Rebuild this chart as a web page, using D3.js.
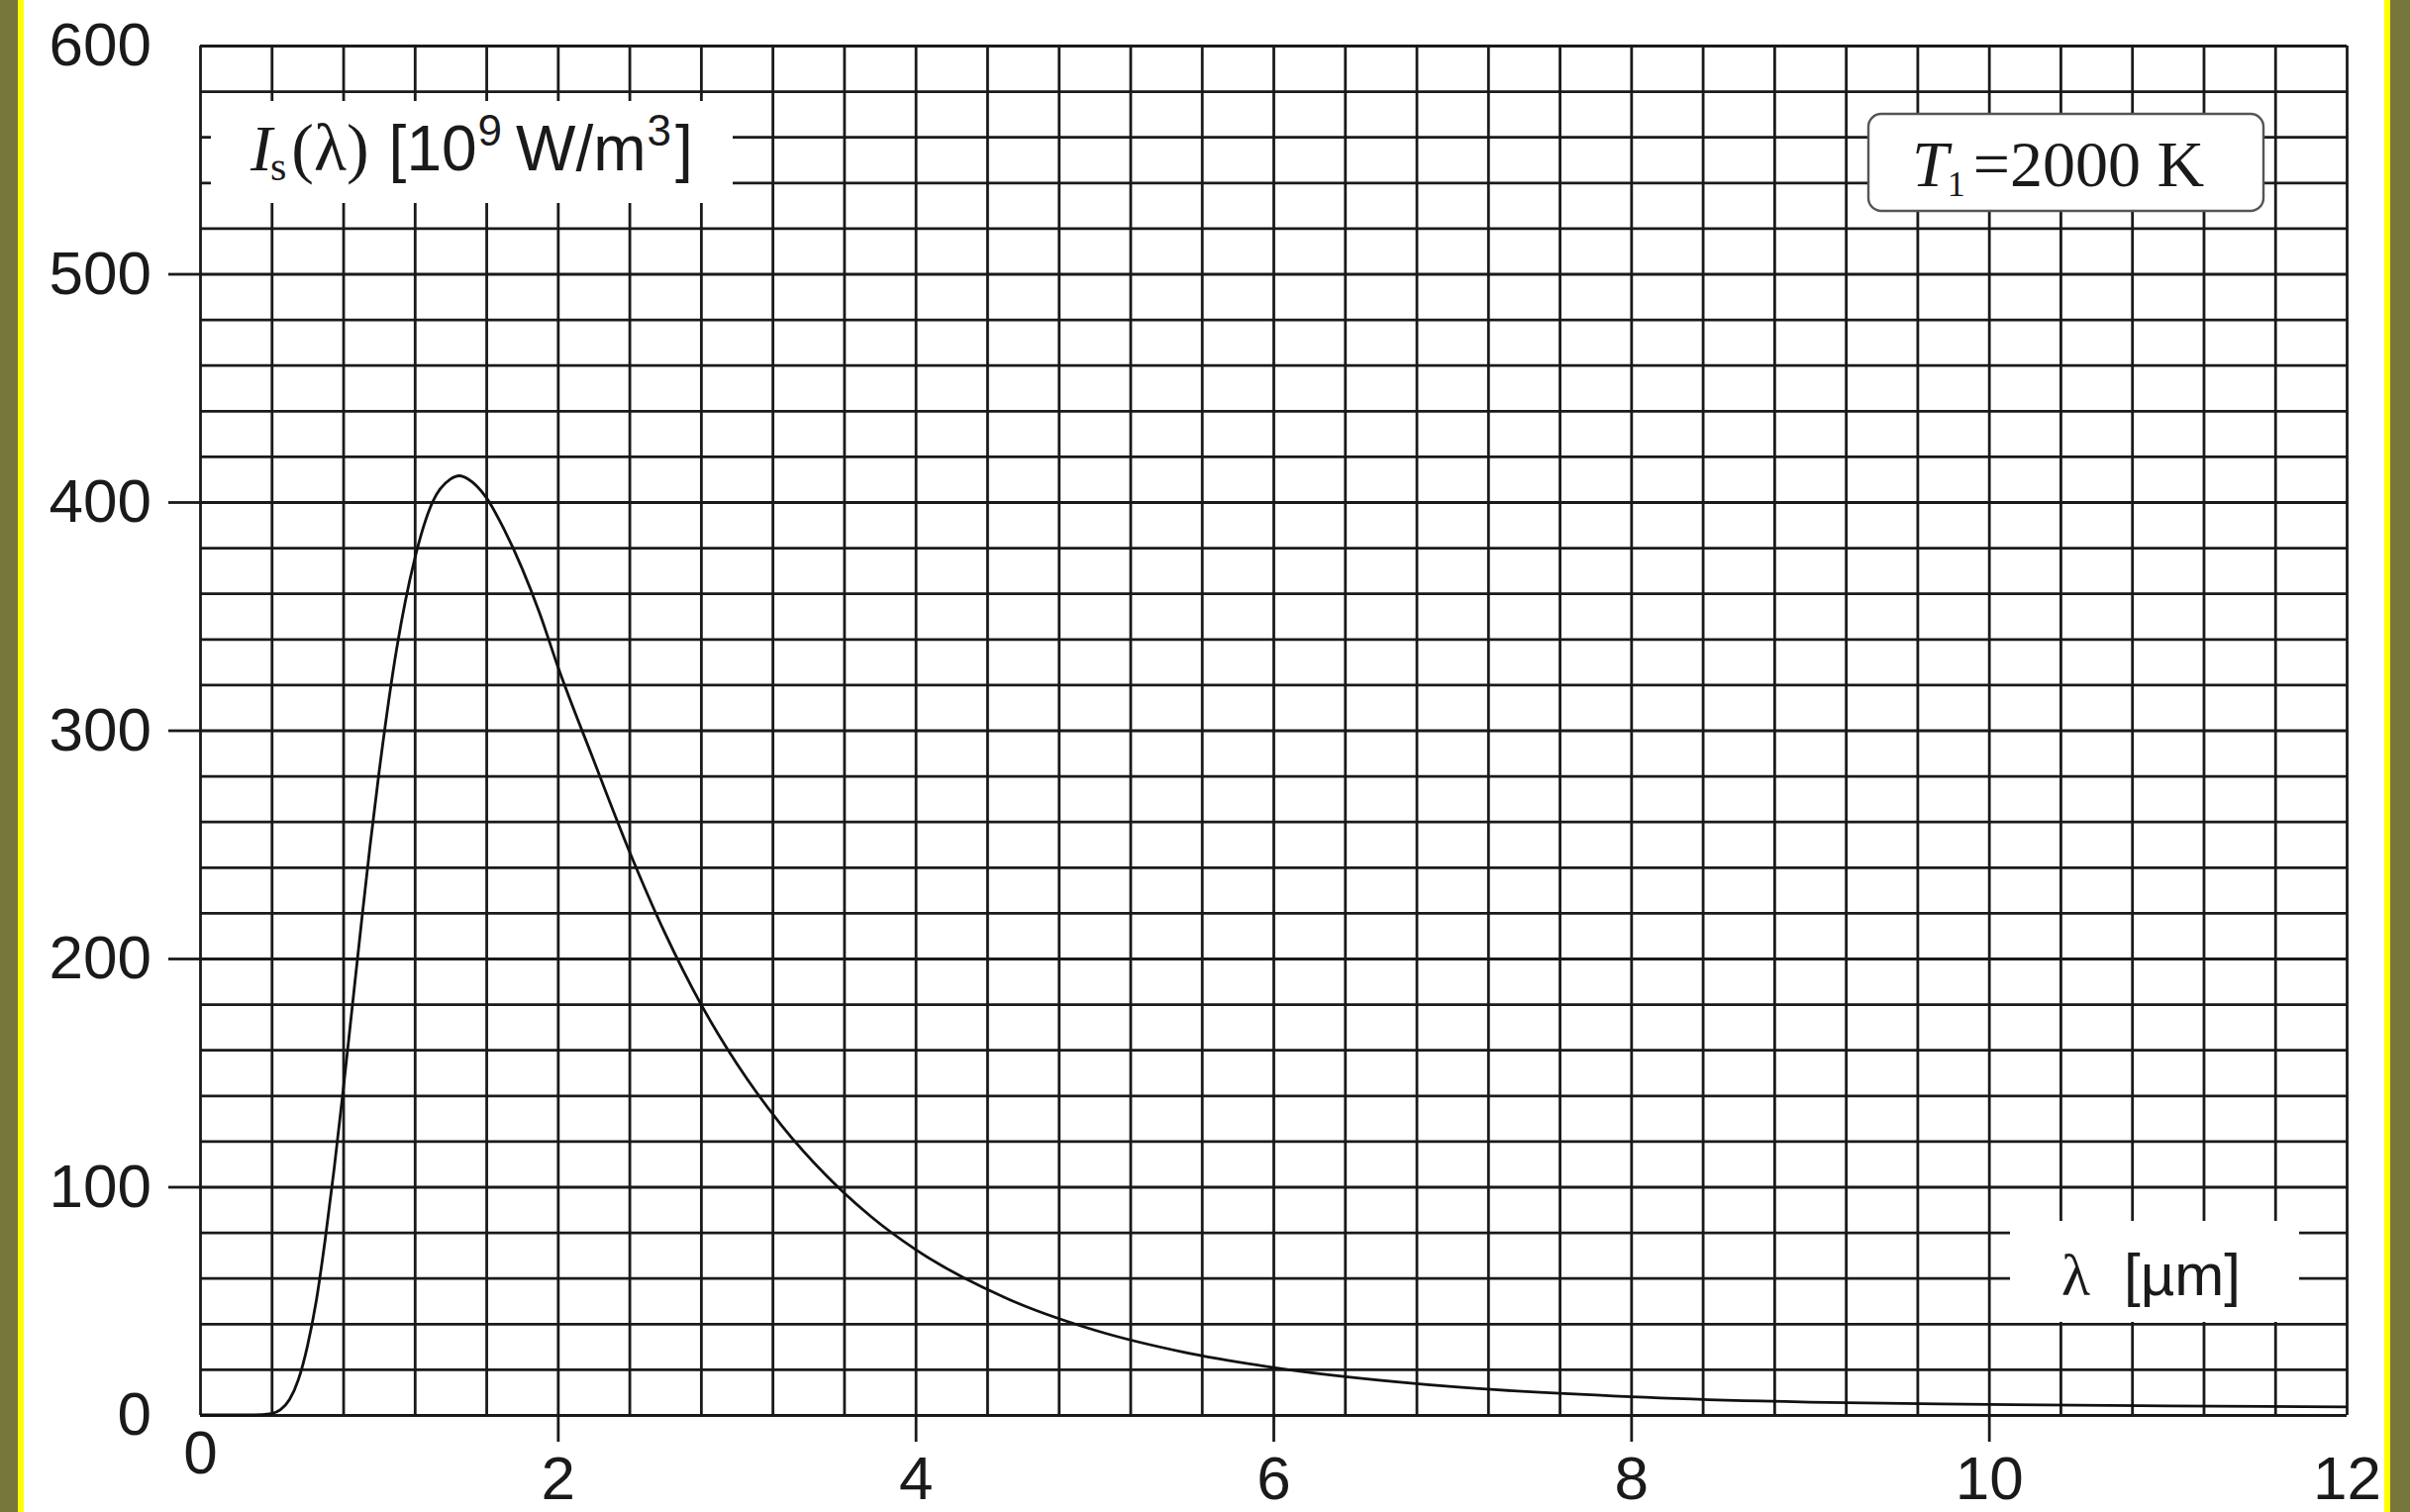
<!DOCTYPE html>
<html>
<head>
<meta charset="utf-8">
<script src="https://cdn.jsdelivr.net/npm/d3@7"></script>
<style>
  html, body { margin: 0; padding: 0; background: #fff; }
  svg { display: block; }
</style>
</head>
<body>
<svg></svg>
<script>
// wavelength in micrometres
const lambdaValues = [0, 0.3, 0.4, 0.45, 0.5, 0.55, 0.6, 0.65, 0.7, 0.75, 0.8, 0.85, 0.9, 0.95,
  1.0, 1.1, 1.2, 1.3, 1.4, 1.45, 1.5, 1.6, 1.7, 1.8, 1.9, 2.0, 2.2, 2.4, 2.6, 2.8, 3.0,
  3.25, 3.5, 3.75, 4.0, 4.5, 5.0, 5.5, 6.0, 7.0, 8.0, 9.0, 10, 11, 12];

// spectral intensity in 10^9 W/m^3 at each wavelength above
const intensityValues = [0, 0, 0.6, 2.3, 6.7, 15.5, 30, 50, 77, 108, 142, 178, 214, 249,
  281, 336, 375, 400, 410, 411.5, 410, 402, 388, 371, 351, 328, 287, 247, 211, 180, 154,
  127, 105, 87, 72.5, 51.4, 37.2, 27.5, 20.8, 12.4, 8.0, 5.6, 4.6, 4.0, 3.5];

const xTickValues = [0, 2, 4, 6, 8, 10, 12];
const yTickValues = [0, 100, 200, 300, 400, 500, 600];

const width = 2434;
const height = 1527;

// plot box
const margin = { top: 46, right: 64, bottom: 98, left: 202 };
const innerLeft = margin.left;
const innerRight = width - margin.right;
const innerTop = margin.top;
const innerBottom = height - margin.bottom;

const sansFont = '"Liberation Sans", Arial, Helvetica, sans-serif';
const serifFont = '"Liberation Serif", "Times New Roman", serif';
const inkColor = '#1a1a1a';

const x = d3.scaleLinear().domain([0, 12]).range([innerLeft, innerRight]);
const y = d3.scaleLinear().domain([0, 600]).range([innerBottom, innerTop]);

const svg = d3.select('svg')
  .attr('width', width)
  .attr('height', height);

// olive frame with yellow edge on both sides
svg.append('rect').attr('x', 0).attr('y', 0).attr('width', 18).attr('height', height).attr('fill', '#78773b');
svg.append('rect').attr('x', 18).attr('y', 0).attr('width', 6).attr('height', height).attr('fill', '#ffff00');
svg.append('rect').attr('x', 2414).attr('y', 0).attr('width', 20).attr('height', height).attr('fill', '#78773b');
svg.append('rect').attr('x', 2408).attr('y', 0).attr('width', 6).attr('height', height).attr('fill', '#ffff00');

// grid: every 0.4 um and every 20 units
const xGridValues = d3.range(0, 31).map(i => i * 0.4);
const yGridValues = d3.range(0, 31).map(i => i * 20);

const gridX = svg.append('g')
  .attr('class', 'grid-x')
  .attr('transform', `translate(0, ${innerBottom})`)
  .call(d3.axisBottom(x).tickValues(xGridValues).tickSize(-(innerBottom - innerTop)).tickFormat(''));

const gridY = svg.append('g')
  .attr('class', 'grid-y')
  .attr('transform', `translate(${innerLeft}, 0)`)
  .call(d3.axisLeft(y).tickValues(yGridValues).tickSize(-(innerRight - innerLeft)).tickFormat(''));

[gridX, gridY].forEach(g => {
  g.select('.domain').remove();
  g.selectAll('line').attr('stroke', inkColor).attr('stroke-width', 2.8);
});

// white patches behind the axis labels
svg.append('rect')
  .attr('x', 213).attr('y', 102)
  .attr('width', 527).attr('height', 103)
  .attr('fill', '#fff');

svg.append('rect')
  .attr('x', 2030).attr('y', 1233)
  .attr('width', 292).attr('height', 102)
  .attr('fill', '#fff');

// the curve
const points = lambdaValues.map((d, i) => [d, intensityValues[i]]);

svg.append('path')
  .datum(points)
  .attr('fill', 'none')
  .attr('stroke', '#111')
  .attr('stroke-width', 2.8)
  .attr('d', d3.line()
    .x(d => x(d[0]))
    .y(d => y(d[1]))
    .curve(d3.curveMonotoneX));

// y axis ticks + labels
const yAxis = svg.append('g')
  .attr('transform', `translate(${innerLeft}, 0)`)
  .call(d3.axisLeft(y).tickValues(yTickValues).tickSize(32).tickPadding(17));

yAxis.select('.domain').remove();
yAxis.selectAll('.tick line')
  .attr('stroke', inkColor)
  .attr('stroke-width', 2.8)
  .attr('opacity', d => (d === 0 || d === 600) ? 0 : 1);
yAxis.selectAll('.tick text')
  .attr('font-family', sansFont)
  .attr('font-size', 62)
  .attr('fill', inkColor);

// x axis ticks + labels
const xAxis = svg.append('g')
  .attr('transform', `translate(0, ${innerBottom})`)
  .call(d3.axisBottom(x).tickValues(xTickValues).tickSize(27).tickPadding(14));

xAxis.select('.domain').remove();
xAxis.selectAll('.tick line')
  .attr('stroke', inkColor)
  .attr('stroke-width', 2.8)
  .attr('opacity', d => (d === 0 || d === 12) ? 0 : 1);
xAxis.selectAll('.tick text')
  .attr('font-family', sansFont)
  .attr('font-size', 62)
  .attr('fill', inkColor)
  .attr('y', d => d === 0 ? 15 : 41);

// y axis title
const yTitle = svg.append('text')
  .attr('x', 253)
  .attr('y', 172)
  .attr('font-size', 64)
  .attr('fill', inkColor);

yTitle.append('tspan').attr('font-family', serifFont).attr('font-size', 66).attr('font-style', 'italic').text('I');
yTitle.append('tspan').attr('font-family', serifFont).attr('font-size', 42).attr('dy', 10).attr('dx', -2).text('s');
yTitle.append('tspan').attr('font-family', serifFont).attr('font-size', 68).attr('dy', -10).attr('dx', 5).text('(λ)');
yTitle.append('tspan').attr('font-family', sansFont).attr('dx', 20).text('[10');
yTitle.append('tspan').attr('font-family', sansFont).attr('font-size', 44).attr('dy', -25).attr('dx', 1).text('9');
yTitle.append('tspan').attr('font-family', sansFont).attr('dy', 25).attr('dx', 14).text('W/m');
yTitle.append('tspan').attr('font-family', sansFont).attr('font-size', 44).attr('dy', -25).attr('dx', 1).text('3');
yTitle.append('tspan').attr('font-family', sansFont).attr('dy', 25).attr('dx', 4).text(']');

// x axis title
const xTitle = svg.append('text')
  .attr('x', 2082)
  .attr('y', 1308)
  .attr('font-size', 60)
  .attr('fill', inkColor);

xTitle.append('tspan').attr('font-family', serifFont).text('λ');
xTitle.append('tspan').attr('font-family', sansFont).attr('dx', 34).text('[µm]');

// temperature box
const tempBox = svg.append('g');

tempBox.append('rect')
  .attr('x', 1887).attr('y', 115)
  .attr('width', 399).attr('height', 98)
  .attr('rx', 13)
  .attr('fill', '#fff')
  .attr('stroke', '#555')
  .attr('stroke-width', 2.4);

const tempText = tempBox.append('text')
  .attr('x', 1931)
  .attr('y', 188)
  .attr('font-family', serifFont)
  .attr('font-size', 66)
  .attr('fill', inkColor);

tempText.append('tspan').attr('font-style', 'italic').text('T');
tempText.append('tspan').attr('font-size', 36).attr('dy', 10).attr('dx', -1).text('1');
tempText.append('tspan').attr('dy', -10).attr('dx', 8).text('=2000 K');
</script>
</body>
</html>
